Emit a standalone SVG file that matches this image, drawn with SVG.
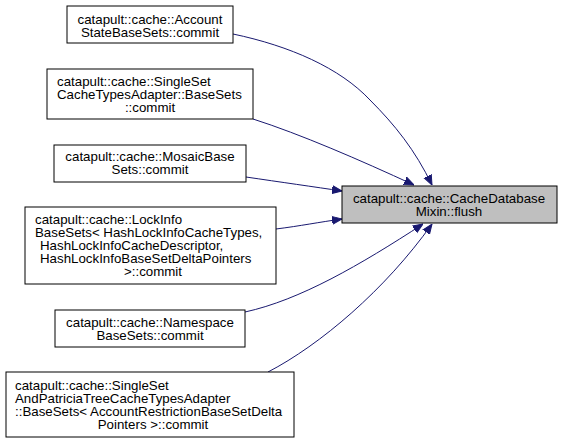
<svg xmlns="http://www.w3.org/2000/svg" width="562" height="443" viewBox="0 0 562 443">
<defs>
<style>
.box{fill:#fff;stroke:#000;stroke-width:1}
.tgt{fill:#bfbfbf;stroke:#000;stroke-width:1}
text{font-family:"Liberation Sans",Arial,sans-serif;font-size:13.3px;fill:#000}
.m{text-anchor:middle}
.e{fill:none;stroke:#191970;stroke-width:1}
</style>
<marker id="ah" viewBox="0 0 10 10" refX="10" refY="5" markerWidth="10" markerHeight="10" markerUnits="userSpaceOnUse" orient="auto">
<path d="M0,1 L10,5 L0,9 Z" fill="#191970" stroke="#191970"/>
</marker>
</defs>
<g id="connectors">
<path class="e" marker-end="url(#ah)" d="M233,34 C290,46 340,68 370,100 C395,125 415,150 432,185"/>
<path class="e" marker-end="url(#ah)" d="M253,119 C300,134 360,160 414,185"/>
<path class="e" marker-end="url(#ah)" d="M246,177 C280,182 315,187 342,191"/>
<path class="e" marker-end="url(#ah)" d="M276,229 C300,226 320,222 342,219"/>
<path class="e" marker-end="url(#ah)" d="M245,312 C300,300 360,265 423,224"/>
<path class="e" marker-end="url(#ah)" d="M268,372 C320,345 385,290 432,224"/>
</g>
<g id="target">
<rect class="tgt" x="342" y="186" width="215" height="37"/>
<text class="m" x="449" y="203">catapult::cache::CacheDatabase</text>
<text class="m" x="449" y="216">Mixin::flush</text>
</g>
<g id="n1">
<rect class="box" x="67" y="6" width="166" height="37"/>
<text class="m" x="150" y="23.5">catapult::cache::Account</text>
<text class="m" x="150" y="36.5">StateBaseSets::commit</text>
</g>
<g id="n2">
<rect class="box" x="47" y="69" width="206" height="50"/>
<text x="57" y="86">catapult::cache::SingleSet</text>
<text x="57" y="99">CacheTypesAdapter::BaseSets</text>
<text class="m" x="150" y="112">::commit</text>
</g>
<g id="n3">
<rect class="box" x="54" y="145" width="192" height="37"/>
<text class="m" x="150" y="161">catapult::cache::MosaicBase</text>
<text class="m" x="150" y="174">Sets::commit</text>
</g>
<g id="n4">
<rect class="box" x="25" y="207" width="251" height="77"/>
<text x="35" y="224">catapult::cache::LockInfo</text>
<text x="35" y="237">BaseSets&lt; HashLockInfoCacheTypes,</text>
<text x="40" y="250">HashLockInfoCacheDescriptor,</text>
<text x="40" y="263">HashLockInfoBaseSetDeltaPointers</text>
<text class="m" x="153" y="276">&gt;::commit</text>
</g>
<g id="n5">
<rect class="box" x="55" y="310" width="190" height="37"/>
<text class="m" x="150" y="327">catapult::cache::Namespace</text>
<text class="m" x="150" y="340">BaseSets::commit</text>
</g>
<g id="n6">
<rect class="box" x="6" y="372" width="288" height="65"/>
<text x="15" y="390">catapult::cache::SingleSet</text>
<text x="15" y="403">AndPatriciaTreeCacheTypesAdapter</text>
<text x="15" y="416">::BaseSets&lt; AccountRestrictionBaseSetDelta</text>
<text class="m" x="153" y="429">Pointers &gt;::commit</text>
</g>
</svg>
